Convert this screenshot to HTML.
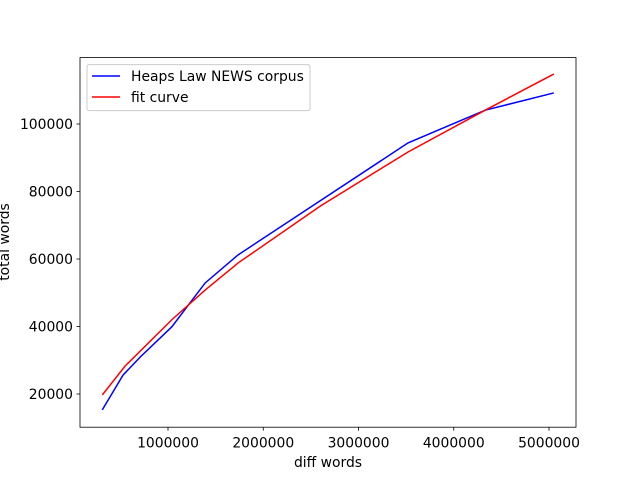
<!DOCTYPE html>
<html><head><meta charset="utf-8"><style>
body{margin:0;background:#fff;}
svg text{font-family:"DejaVu Sans","Liberation Sans",sans-serif;font-size:13.9px;fill:#000;}
</style></head><body>
<svg id="chart" width="640" height="480" xmlns="http://www.w3.org/2000/svg">
<rect x="80" y="57.6" width="496" height="369.6" fill="#fff" stroke="none"/>
<g id="ticks"></g>
<path id="blue" fill="none" stroke="#0000ff" stroke-width="1.5"/>
<path id="red" fill="none" stroke="#ff0000" stroke-width="1.5"/>
<rect x="80" y="57.6" width="496" height="369.6" fill="none" stroke="#000" stroke-width="0.8"/>
<text x="328" y="467" text-anchor="middle">diff words</text>
<text x="0" y="0" transform="translate(9,242) rotate(-90)" text-anchor="middle">total words</text>
<g>
<rect x="87" y="64.6" width="223" height="46" rx="2" fill="#fff" fill-opacity="0.8" stroke="#ccc" stroke-width="1"/>
<line x1="92" y1="76" x2="120" y2="76" stroke="#0000ff" stroke-width="1.5"/>
<text x="131" y="81">Heaps Law NEWS corpus</text>
<line x1="92" y1="97" x2="120" y2="97" stroke="#ff0000" stroke-width="1.5"/>
<text x="131" y="102">fit curve</text>
</g>
</svg>
<script>
const blueX=[310000,528000,710000,1040000,1390000,1735000,3520000,4330000,5050000];
const blueY=[15300,25600,31000,39900,52900,61200,94400,104100,109200];
const redX=[310000,550000,1040000,1390000,1735000,2600000,3520000,4330000,5050000];
const redY=[19700,28300,42000,50800,58800,75700,91700,104100,114800];
const xTicks=[1000000,2000000,3000000,4000000,5000000];
const yTicks=[20000,40000,60000,80000,100000];
function sx(v){return 72.75+v/1e6*95.25;}
function sy(v){return 461.5-v/1000*3.375;}
function path(xs,ys){return xs.map((x,i)=>(i?'L':'M')+sx(x).toFixed(2)+','+sy(ys[i]).toFixed(2)).join(' ');}
document.getElementById('blue').setAttribute('d',path(blueX,blueY));
document.getElementById('red').setAttribute('d',path(redX,redY));
const g=document.getElementById('ticks');
const NS='http://www.w3.org/2000/svg';
xTicks.forEach(t=>{
const l=document.createElementNS(NS,'line');
l.setAttribute('x1',sx(t));l.setAttribute('x2',sx(t));l.setAttribute('y1',427.2);l.setAttribute('y2',430.7);l.setAttribute('stroke','#000');l.setAttribute('stroke-width','0.8');


g.appendChild(l);
const tx=document.createElementNS(NS,'text');
tx.setAttribute('x',sx(t));tx.setAttribute('y',447.5);tx.setAttribute('text-anchor','middle');tx.textContent=String(t);


g.appendChild(tx);
});
yTicks.forEach(t=>{
const l=document.createElementNS(NS,'line');
l.setAttribute('x1',76.5);l.setAttribute('x2',80);l.setAttribute('y1',sy(t));l.setAttribute('y2',sy(t));l.setAttribute('stroke','#000');l.setAttribute('stroke-width','0.8');


g.appendChild(l);
const tx=document.createElementNS(NS,'text');
tx.setAttribute('x',73);tx.setAttribute('y',sy(t)+5);tx.setAttribute('text-anchor','end');tx.textContent=String(t);


g.appendChild(tx);
});
</script>
</body></html>
